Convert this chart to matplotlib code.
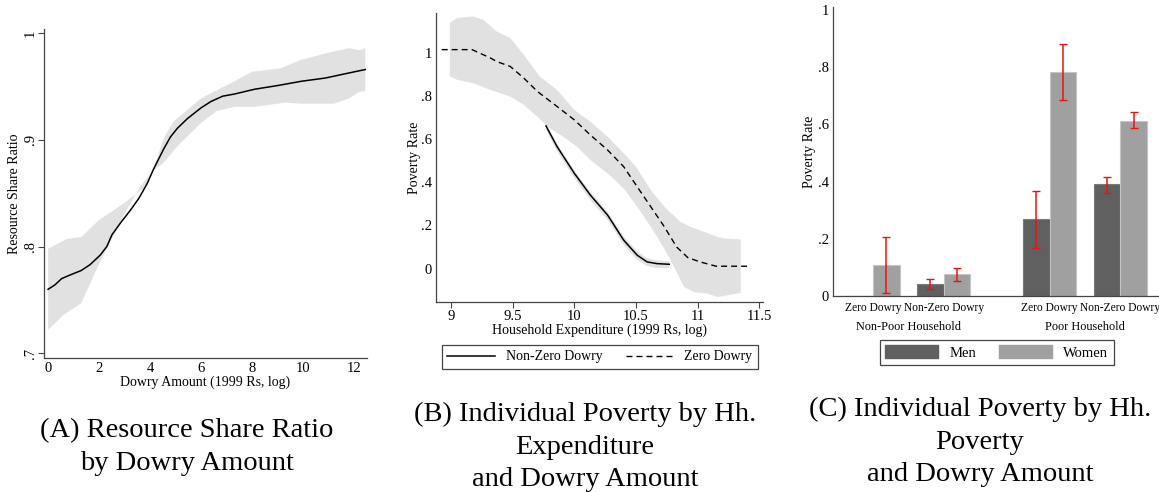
import numpy as np
import matplotlib
matplotlib.use('Agg')
import matplotlib.pyplot as plt
from matplotlib.patches import Patch
from matplotlib.lines import Line2D

plt.rcParams['font.family'] = ['Liberation Serif', 'DejaVu Serif']
plt.rcParams['font.size'] = 10

# Panel A: resource share ratio by log dowry amount
a_x = [0, 0.26, 0.53, 0.86, 1.29, 1.64, 2.04, 2.3, 2.5, 2.83, 3.22, 3.55, 3.88, 4.14,
       4.54, 4.8, 5.07, 5.46, 5.99, 6.38, 6.84, 7.3, 8.09, 9.0, 9.93, 10.86, 11.64, 12.43]
a_y = [0.760, 0.764, 0.770, 0.7734, 0.7775, 0.783, 0.792, 0.800, 0.811, 0.822, 0.834, 0.845,
       0.859, 0.873, 0.892, 0.903, 0.911, 0.920, 0.930, 0.936, 0.941, 0.943, 0.9475, 0.951,
       0.955, 0.958, 0.962, 0.966]
a_hi_x = [0, 0.72, 1.3, 2.0, 3.0, 3.75, 4.15, 4.5, 4.9, 6.0, 7.3, 8.0, 9.1, 9.9, 11.2, 11.8, 12.2, 12.43]
a_hi = [0.798, 0.807, 0.809, 0.825, 0.841, 0.855, 0.873, 0.900, 0.917, 0.939, 0.955, 0.964,
        0.967, 0.975, 0.983, 0.986, 0.984, 0.986]
a_lo_x = [0, 0.6, 1.3, 2.0, 3.0, 3.6, 4.15, 4.5, 5.1, 6.0, 6.6, 7.3, 8.1, 9.3, 9.9, 11.2, 11.8, 12.2, 12.43]
a_lo = [0.722, 0.736, 0.747, 0.784, 0.831, 0.856, 0.872, 0.878, 0.895, 0.916, 0.927, 0.931,
        0.931, 0.935, 0.934, 0.934, 0.939, 0.945, 0.946]

# Panel B: poverty rate by log household expenditure
zd_x = [8.924, 9.17, 9.32, 9.37, 9.48, 9.59, 9.70, 9.86, 10.0, 10.13, 10.27, 10.40, 10.5,
        10.62, 10.73, 10.83, 10.92, 11.02, 11.15, 11.43]
zd_y = [1.016, 1.016, 0.977, 0.961, 0.938, 0.884, 0.822, 0.752, 0.690, 0.620, 0.550, 0.473,
        0.388, 0.287, 0.194, 0.100, 0.051, 0.031, 0.011, 0.011]
zd_hi_x = [8.99, 9.05, 9.18, 9.26, 9.37, 9.48, 9.59, 9.72, 9.86, 10.0, 10.13, 10.27, 10.40,
           10.5, 10.62, 10.73, 10.86, 10.94, 11.05, 11.16, 11.21, 11.35]
zd_hi = [1.14, 1.163, 1.17, 1.155, 1.10, 1.07, 0.992, 0.891, 0.829, 0.736, 0.682, 0.612, 0.535,
         0.473, 0.364, 0.287, 0.217, 0.194, 0.171, 0.147, 0.140, 0.135]
zd_lo_x = [8.99, 9.05, 9.18, 9.32, 9.48, 9.59, 9.70, 9.80, 9.91, 10.02, 10.13, 10.27, 10.40,
           10.51, 10.62, 10.73, 10.83, 10.89, 10.97, 11.08, 11.16, 11.24, 11.35]
zd_lo = [0.891, 0.876, 0.860, 0.829, 0.798, 0.760, 0.705, 0.651, 0.612, 0.566, 0.504, 0.442,
         0.372, 0.287, 0.194, 0.093, -0.016, -0.085, -0.109, -0.116, -0.132, -0.124, -0.113]
nz_x = [9.77, 9.86, 10.0, 10.13, 10.27, 10.40, 10.51, 10.59, 10.67, 10.77]
nz_y = [0.662, 0.566, 0.442, 0.341, 0.248, 0.132, 0.062, 0.031, 0.023, 0.020]
nz_hi = [0.672, 0.578, 0.456, 0.356, 0.264, 0.150, 0.080, 0.048, 0.038, 0.034]
nz_lo = [0.645, 0.545, 0.420, 0.318, 0.225, 0.110, 0.040, 0.012, 0.003, 0.002]

# Panel C: poverty rate by household poverty and dowry, men vs women
cat_labels = ['Zero Dowry', 'Non-Zero Dowry', 'Zero Dowry', 'Non-Zero Dowry']
cat_pos = [0, 1, 2.5, 3.5]
group_labels = ['Non-Poor Household', 'Poor Household']
men = [0.0, 0.042, 0.268, 0.392]
men_ci_lo = [np.nan, 0.026, 0.167, 0.361]
men_ci_hi = [np.nan, 0.058, 0.368, 0.417]
women = [0.108, 0.076, 0.783, 0.613]
women_ci_lo = [0.009, 0.052, 0.685, 0.586]
women_ci_hi = [0.207, 0.099, 0.880, 0.642]

band = '#e1e1e1'
axis_col = '#444444'

fig = plt.figure(figsize=(11.59, 4.92), dpi=100)


def style_axes(ax):
    for s in ['top', 'right']:
        ax.spines[s].set_visible(False)
    for s in ['left', 'bottom']:
        ax.spines[s].set_color(axis_col)
        ax.spines[s].set_linewidth(0.9)
    ax.tick_params(colors=axis_col, labelcolor='black', width=0.8, labelsize=10.5)


# ---- A ----
axA = fig.add_axes([0.038, 0.2724, 0.2787, 0.6687])
style_axes(axA)
axA.fill(a_hi_x + a_lo_x[::-1], a_hi + a_lo[::-1], color=band, lw=0)
axA.plot(a_x, a_y, color='black', lw=1.1)
axA.set_xlim(-0.16, 12.5)
axA.set_ylim(0.6956, 1.004)
axA.set_xticks([0, 2, 4, 6, 8, 10, 12])
axA.set_yticks([0.7, 0.8, 0.9, 1.0])
axA.set_yticklabels(['.7', '.8', '.9', '1'], rotation=90, va='center')
axA.tick_params(axis='x', length=0, pad=3)
axA.tick_params(axis='y', length=4, pad=1)
axA.set_xlabel('Dowry Amount (1999 Rs, log)', labelpad=0)
axA.set_ylabel('Resource Share Ratio', labelpad=2)

# ---- B ----
axB = fig.add_axes([0.3762, 0.3862, 0.2821, 0.5874])
style_axes(axB)
axB.fill(zd_hi_x + zd_lo_x[::-1], zd_hi + zd_lo[::-1], color=band, lw=0)
axB.fill(nz_x + nz_x[::-1], nz_hi + nz_lo[::-1], color=band, lw=0)
axB.plot(nz_x, nz_y, color='black', lw=1.1)
axB.plot(zd_x, zd_y, color='black', lw=1.0, dashes=(4.3, 2.9))
axB.set_xlim(8.878, 11.53)
axB.set_ylim(-0.155, 1.186)
axB.set_xticks([9, 9.5, 10, 10.5, 11, 11.5])
axB.set_xticklabels(['9', '9.5', '10', '10.5', '11', '11.5'])
axB.set_yticks([0, 0.2, 0.4, 0.6, 0.8, 1.0])
axB.set_yticklabels(['0', '.2', '.4', '.6', '.8', '1'])
axB.tick_params(axis='x', length=4, pad=2)
axB.tick_params(axis='y', length=0, pad=3)
axB.set_xlabel('Household Expenditure (1999 Rs, log)', labelpad=0)
axB.set_ylabel('Poverty Rate', labelpad=0)
legB = fig.legend(handles=[Line2D([], [], color='black', lw=1.1),
                           Line2D([], [], color='black', lw=1.0, dashes=(4.3, 2.9))],
                  labels=['Non-Zero Dowry', 'Zero Dowry'], loc='center',
                  bbox_to_anchor=(0.5177, 0.2744), ncol=2, handlelength=3.4,
                  handletextpad=0.8, columnspacing=1.7, borderpad=0.4,
                  fancybox=False, framealpha=1)
legB.get_frame().set_edgecolor(axis_col)
legB.get_frame().set_linewidth(0.9)

# ---- C ----
axC = fig.add_axes([0.7187, 0.3984, 0.2827, 0.5868])
style_axes(axC)
w = 0.377
pos = np.array(cat_pos)
axC.bar(pos - w / 2, men, width=w, color='#606060', edgecolor='#7a7a7a', lw=0.8)
axC.bar(pos + w / 2, women, width=w, color='#a0a0a0', edgecolor='#c4c4c4', lw=0.8)
men_mid = (np.array(men_ci_lo) + np.array(men_ci_hi)) / 2
men_err = (np.array(men_ci_hi) - np.array(men_ci_lo)) / 2
women_mid = (np.array(women_ci_lo) + np.array(women_ci_hi)) / 2
women_err = (np.array(women_ci_hi) - np.array(women_ci_lo)) / 2
axC.errorbar(pos - w / 2, men_mid, yerr=men_err, fmt='none', ecolor='#ee1111', elinewidth=1.1, capsize=3)
axC.errorbar(pos + w / 2, women_mid, yerr=women_err, fmt='none', ecolor='#ee1111', elinewidth=1.1, capsize=3)
axC.set_xlim(-0.566, 4.07)
axC.set_ylim(0, 1.009)
axC.set_yticks([0, 0.2, 0.4, 0.6, 0.8, 1.0])
axC.set_yticklabels(['0', '.2', '.4', '.6', '.8', '1'])
axC.tick_params(axis='y', length=0, pad=3)
axC.set_xticks(cat_pos)
axC.set_xticklabels(cat_labels, fontsize=8.3)
axC.tick_params(axis='x', length=0, pad=4)
axC.set_ylabel('Poverty Rate', labelpad=1.5)
for gx, lab in zip([0.5, 3.0], group_labels):
    axC.text(gx, -0.107, lab, ha='center', va='center', fontsize=8.8,
             transform=axC.get_xaxis_transform())
legC = fig.legend(handles=[Patch(color='#606060'), Patch(color='#a0a0a0')],
                  labels=['Men', 'Women'], loc='center', bbox_to_anchor=(0.860, 0.2835),
                  ncol=2, handlelength=3.6, handleheight=0.9, handletextpad=0.8,
                  columnspacing=1.6, borderpad=0.35, fancybox=False, framealpha=1,
                  fontsize=10.5)
legC.get_frame().set_edgecolor(axis_col)
legC.get_frame().set_linewidth(0.9)

# sub-figure captions
cap = dict(ha='center', va='center', fontsize=20.5, linespacing=1.4)
fig.text(187 / 1159, 1 - 447 / 492, '(A) Resource Share Ratio\nby Dowry Amount', **cap)
fig.text(585 / 1159, 1 - 447 / 492, '(B) Individual Poverty by Hh.\nExpenditure\nand Dowry Amount', **cap)
fig.text(980 / 1159, 1 - 442 / 492, '(C) Individual Poverty by Hh.\nPoverty\nand Dowry Amount', **cap)

fig.savefig('out.png', dpi=100)
plt.close(fig)
